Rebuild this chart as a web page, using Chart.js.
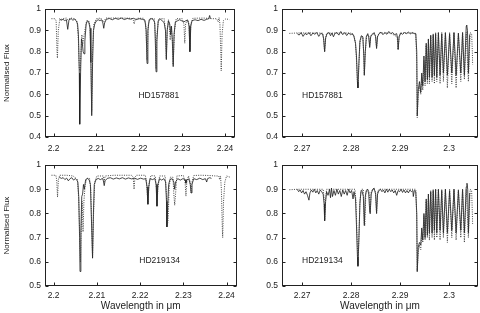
<!DOCTYPE html>
<html><head><meta charset="utf-8">
<script src="https://cdn.jsdelivr.net/npm/chart.js@4.4.0/dist/chart.umd.min.js"></script>
<style>
html,body{margin:0;padding:0;background:#fff;}
#wrap{position:relative;width:480px;height:313px;overflow:hidden;background:#fff;}
canvas{position:absolute;}
</style></head><body>
<div id="wrap">
<canvas id="c1" width="240" height="157" style="left:0;top:0"></canvas>
<canvas id="c2" width="240" height="157" style="left:240px;top:0"></canvas>
<canvas id="c3" width="240" height="157" style="left:0;top:156px"></canvas>
<canvas id="c4" width="240" height="157" style="left:240px;top:156px"></canvas>
</div>
<script>
// ---------- tick values / labels ----------
const leftXTicks = [2.2, 2.21, 2.22, 2.23, 2.24];
const leftXLabels = ["2.2", "2.21", "2.22", "2.23", "2.24"];
const rightXTicks = [2.27, 2.28, 2.29, 2.3];
const rightXLabels = ["2.27", "2.28", "2.29", "2.3"];
const topYTicks = [0.4, 0.5, 0.6, 0.7, 0.8, 0.9, 1];
const topYLabels = ["0.4", "0.5", "0.6", "0.7", "0.8", "0.9", "1"];
const botYTicks = [0.5, 0.6, 0.7, 0.8, 0.9, 1];
const botYLabels = ["0.5", "0.6", "0.7", "0.8", "0.9", "1"];
const starNames = ["HD157881", "HD219134"];

// ---------- HD157881, 2.20-2.24 um : observed (solid) ----------
const tlObsWave = [2.2013,2.2018,2.2022,2.2026,2.2030,2.2033,2.2036,2.2041,2.2045,2.2049,2.2053,2.2056,2.2058,2.2060,2.2061,2.2063,2.2065,2.2067,2.2069,2.2071,2.2073,2.2076,2.2079,2.2082,2.2085,2.2087,2.2089,2.2091,2.2093,2.2096,2.2100,2.2104,2.2108,2.2112,2.2115,2.2117,2.2119,2.2123,2.2130,2.2137,2.2144,2.2151,2.2158,2.2165,2.2172,2.2179,2.2186,2.2193,2.2200,2.2207,2.2213,2.2216,2.2218,2.2220,2.2223,2.2228,2.2233,2.2236,2.2238,2.2239,2.2241,2.2244,2.2249,2.2254,2.2258,2.2261,2.2263,2.2265,2.2268,2.2271,2.2273,2.2275,2.2277,2.2279,2.2281,2.2284,2.2289,2.2294,2.2299,2.2304,2.2308,2.2313,2.2316,2.2318,2.2320,2.2323,2.2330,2.2337,2.2344,2.2351,2.2357,2.2362,2.2364,2.2366];
const tlObsFlux = [0.955,0.948,0.952,0.946,0.950,0.905,0.950,0.955,0.948,0.952,0.945,0.930,0.880,0.700,0.460,0.700,0.860,0.840,0.800,0.790,0.850,0.930,0.945,0.940,0.910,0.750,0.500,0.750,0.900,0.930,0.945,0.950,0.946,0.950,0.935,0.910,0.935,0.952,0.956,0.950,0.957,0.952,0.958,0.951,0.956,0.953,0.957,0.951,0.955,0.952,0.948,0.900,0.745,0.900,0.950,0.955,0.950,0.935,0.800,0.706,0.850,0.945,0.952,0.945,0.935,0.900,0.763,0.900,0.945,0.930,0.880,0.920,0.850,0.730,0.880,0.940,0.945,0.950,0.945,0.940,0.945,0.948,0.920,0.800,0.920,0.946,0.950,0.946,0.952,0.947,0.952,0.955,0.970,0.955];
// ---------- HD157881, 2.20-2.24 um : model (dotted) ----------
const tlModWave = [2.1995,2.2003,2.2006,2.2008,2.2009,2.2011,2.2014,2.2020,2.2030,2.2033,2.2040,2.2050,2.2055,2.2058,2.2060,2.2062,2.2064,2.2066,2.2068,2.2070,2.2073,2.2077,2.2082,2.2085,2.2087,2.2089,2.2091,2.2094,2.2100,2.2110,2.2117,2.2122,2.2140,2.2160,2.2180,2.2186,2.2188,2.2190,2.2196,2.2210,2.2215,2.2218,2.2221,2.2226,2.2235,2.2238,2.2239,2.2241,2.2245,2.2258,2.2261,2.2263,2.2265,2.2268,2.2270,2.2272,2.2274,2.2277,2.2279,2.2282,2.2286,2.2300,2.2304,2.2306,2.2308,2.2312,2.2316,2.2318,2.2320,2.2325,2.2350,2.2370,2.2380,2.2384,2.2386,2.2388,2.2390,2.2391,2.2393,2.2396,2.2402,2.2410];
const tlModFlux = [0.955,0.955,0.945,0.800,0.770,0.900,0.945,0.955,0.958,0.950,0.958,0.955,0.940,0.850,0.720,0.710,0.800,0.880,0.830,0.860,0.900,0.945,0.945,0.920,0.800,0.520,0.800,0.930,0.955,0.958,0.940,0.958,0.958,0.958,0.957,0.948,0.930,0.948,0.957,0.957,0.930,0.760,0.930,0.957,0.955,0.850,0.720,0.880,0.955,0.955,0.900,0.770,0.900,0.950,0.920,0.855,0.920,0.860,0.740,0.900,0.955,0.955,0.930,0.840,0.930,0.950,0.930,0.810,0.930,0.957,0.958,0.955,0.955,0.940,0.960,0.930,0.800,0.710,0.880,0.945,0.955,0.950];

// ---------- HD157881, 2.27-2.30 um : observed ----------
const trObsWave = [2.2690,2.2694,2.2698,2.2702,2.2706,2.2710,2.2714,2.2718,2.2722,2.2726,2.2730,2.2734,2.2738,2.2742,2.2744,2.2746,2.2748,2.2751,2.2755,2.2758,2.2761,2.2764,2.2767,2.2771,2.2775,2.2779,2.2783,2.2787,2.2791,2.2795,2.2799,2.2803,2.2806,2.2809,2.2811,2.2813,2.2814,2.2816,2.2818,2.2821,2.2824,2.2826,2.2827,2.2829,2.2831,2.2834,2.2836,2.2838,2.2840,2.2843,2.2847,2.2850,2.2852,2.2854,2.2857,2.2861,2.2865,2.2869,2.2873,2.2877,2.2881,2.2885,2.2889,2.2893,2.2895,2.2896,2.2898,2.2901,2.2905,2.2909,2.2913,2.2917,2.2921,2.2925,2.2929,2.2932,2.2934,2.2935,2.2937,2.29395,2.29422,2.29442,2.29463,2.29487,2.29510,2.29533,2.29557,2.29578,2.29598,2.29625,2.29653,2.29676,2.29700,2.29725,2.29749,2.29782,2.29816,2.29850,2.29884,2.29925,2.29965,2.30010,2.30055,2.30100,2.30143,2.30190,2.30239,2.30275,2.30312,2.30350,2.30360,2.30375,2.30394,2.30420];
const trObsFlux = [0.885,0.878,0.890,0.872,0.886,0.880,0.890,0.875,0.888,0.882,0.890,0.872,0.886,0.883,0.860,0.800,0.865,0.885,0.890,0.875,0.888,0.870,0.886,0.890,0.878,0.895,0.880,0.890,0.876,0.888,0.880,0.885,0.870,0.840,0.780,0.660,0.630,0.750,0.850,0.875,0.870,0.780,0.690,0.800,0.870,0.885,0.870,0.820,0.870,0.880,0.890,0.870,0.815,0.870,0.885,0.892,0.880,0.890,0.882,0.895,0.885,0.890,0.880,0.885,0.860,0.810,0.870,0.888,0.882,0.890,0.885,0.892,0.884,0.890,0.885,0.885,0.800,0.500,0.620,0.660,0.610,0.700,0.640,0.780,0.660,0.840,0.670,0.860,0.680,0.875,0.680,0.880,0.690,0.885,0.680,0.890,0.690,0.885,0.700,0.890,0.690,0.885,0.700,0.890,0.690,0.885,0.700,0.890,0.690,0.920,0.925,0.900,0.700,0.880];
// ---------- HD157881, 2.27-2.30 um : model ----------
const trModWave = [2.2674,2.2690,2.2710,2.2730,2.2742,2.2744,2.2746,2.2748,2.2750,2.2780,2.2800,2.2806,2.2809,2.2811,2.2813,2.2814,2.2816,2.2818,2.2821,2.2824,2.2826,2.2827,2.2829,2.2832,2.2836,2.2838,2.2840,2.2844,2.2850,2.2852,2.2854,2.2858,2.2880,2.2894,2.2896,2.2898,2.2902,2.2920,2.2932,2.2934,2.2935,2.2937,2.29395,2.29422,2.29442,2.29463,2.29487,2.29510,2.29533,2.29557,2.29578,2.29598,2.29625,2.29653,2.29676,2.29700,2.29725,2.29749,2.29782,2.29816,2.29850,2.29884,2.29925,2.29965,2.30010,2.30055,2.30100,2.30143,2.30190,2.30239,2.30275,2.30312,2.30350,2.30394,2.30430,2.30460,2.30475,2.30480];
const trModFlux = [0.886,0.888,0.888,0.888,0.887,0.860,0.800,0.860,0.887,0.888,0.887,0.875,0.840,0.760,0.650,0.635,0.740,0.840,0.875,0.870,0.780,0.690,0.800,0.880,0.875,0.830,0.875,0.887,0.875,0.820,0.875,0.888,0.888,0.870,0.810,0.870,0.888,0.888,0.886,0.750,0.490,0.600,0.640,0.600,0.680,0.620,0.760,0.640,0.830,0.650,0.860,0.650,0.880,0.660,0.885,0.650,0.890,0.660,0.890,0.650,0.890,0.660,0.890,0.630,0.890,0.650,0.890,0.630,0.890,0.660,0.890,0.670,0.890,0.660,0.890,0.885,0.800,0.740];

// ---------- HD219134, 2.20-2.24 um : observed ----------
const blObsWave = [2.2013,2.2018,2.2022,2.2026,2.2030,2.2034,2.2038,2.2042,2.2046,2.2050,2.2053,2.2056,2.2058,2.2060,2.2061,2.2063,2.2065,2.2067,2.2069,2.2071,2.2074,2.2078,2.2082,2.2085,2.2087,2.2090,2.2092,2.2094,2.2098,2.2103,2.2108,2.2113,2.2115,2.2117,2.2119,2.2124,2.2131,2.2138,2.2145,2.2152,2.2159,2.2166,2.2173,2.2180,2.2187,2.2194,2.2201,2.2208,2.2213,2.2216,2.2218,2.2220,2.2223,2.2229,2.2234,2.2237,2.2239,2.2241,2.2245,2.2250,2.2255,2.2259,2.2261,2.2262,2.2264,2.2266,2.2269,2.2274,2.2278,2.2280,2.2282,2.2287,2.2293,2.2299,2.2304,2.2306,2.2308,2.2313,2.2316,2.2318,2.2320,2.2324,2.2331,2.2338,2.2345,2.2351,2.2354,2.2356,2.2361,2.2365];
const blObsFlux = [0.950,0.945,0.948,0.940,0.946,0.935,0.944,0.948,0.938,0.944,0.940,0.930,0.870,0.700,0.560,0.720,0.870,0.880,0.920,0.900,0.940,0.945,0.940,0.920,0.800,0.615,0.800,0.920,0.940,0.945,0.940,0.945,0.935,0.915,0.935,0.945,0.948,0.942,0.947,0.943,0.948,0.942,0.947,0.943,0.946,0.941,0.946,0.942,0.944,0.910,0.838,0.910,0.944,0.940,0.945,0.920,0.830,0.920,0.944,0.938,0.944,0.930,0.850,0.744,0.840,0.920,0.940,0.944,0.930,0.900,0.930,0.944,0.938,0.944,0.940,0.925,0.940,0.942,0.920,0.885,0.920,0.944,0.940,0.946,0.940,0.944,0.930,0.944,0.948,0.945];
// ---------- HD219134, 2.20-2.24 um : model ----------
const blModWave = [2.1995,2.2005,2.2007,2.2009,2.2011,2.2014,2.2030,2.2045,2.2055,2.2058,2.2060,2.2062,2.2064,2.2066,2.2068,2.2070,2.2073,2.2077,2.2083,2.2086,2.2088,2.2090,2.2092,2.2095,2.2100,2.2115,2.2117,2.2119,2.2140,2.2160,2.2180,2.2184,2.2186,2.2188,2.2192,2.2212,2.2215,2.2218,2.2221,2.2225,2.2235,2.2238,2.2239,2.2241,2.2245,2.2258,2.2261,2.2263,2.2265,2.2267,2.2270,2.2276,2.2278,2.2280,2.2282,2.2285,2.2300,2.2304,2.2306,2.2308,2.2312,2.2316,2.2318,2.2320,2.2324,2.2340,2.2360,2.2375,2.2382,2.2384,2.2386,2.2388,2.2390,2.2391,2.2393,2.2396,2.2400,2.2408];
const blModFlux = [0.958,0.958,0.940,0.868,0.940,0.958,0.958,0.955,0.940,0.860,0.730,0.600,0.750,0.850,0.724,0.850,0.920,0.945,0.945,0.900,0.750,0.620,0.780,0.930,0.955,0.955,0.930,0.955,0.958,0.958,0.958,0.950,0.900,0.950,0.958,0.958,0.930,0.840,0.930,0.957,0.955,0.900,0.830,0.900,0.955,0.955,0.880,0.750,0.780,0.900,0.950,0.950,0.880,0.834,0.880,0.955,0.957,0.930,0.872,0.930,0.955,0.930,0.885,0.930,0.957,0.958,0.957,0.955,0.955,0.940,0.955,0.900,0.750,0.700,0.850,0.930,0.955,0.950];

// ---------- HD219134, 2.27-2.30 um : observed ----------
const brObsWave = [2.2690,2.2693,2.2696,2.2699,2.2702,2.2705,2.2708,2.2711,2.2714,2.2716,2.2719,2.2722,2.2725,2.2728,2.2731,2.2734,2.2737,2.2740,2.2743,2.2745,2.2746,2.2748,2.2750,2.2753,2.2756,2.2758,2.2760,2.2762,2.2765,2.2768,2.2771,2.2774,2.2777,2.2780,2.2783,2.2786,2.2789,2.2792,2.2795,2.2798,2.2801,2.2804,2.2806,2.2809,2.2811,2.2813,2.2814,2.2816,2.2818,2.2820,2.2822,2.2825,2.2827,2.2829,2.2831,2.2834,2.2836,2.2838,2.2839,2.2841,2.2844,2.2847,2.2850,2.2852,2.2854,2.2857,2.2860,2.2863,2.2866,2.2869,2.2872,2.2875,2.2878,2.2881,2.2884,2.2887,2.2890,2.2893,2.2896,2.2899,2.2902,2.2905,2.2908,2.2911,2.2914,2.2917,2.2920,2.2923,2.2926,2.2927,2.2929,2.2932,2.2934,2.2935,2.2937,2.29395,2.29422,2.29442,2.29463,2.29487,2.29510,2.29533,2.29557,2.29578,2.29598,2.29625,2.29653,2.29676,2.29700,2.29725,2.29749,2.29782,2.29816,2.29850,2.29884,2.29925,2.29965,2.30010,2.30055,2.30100,2.30143,2.30190,2.30239,2.30275,2.30312,2.30350,2.30365,2.30380,2.30394,2.30420];
const brObsFlux = [0.900,0.890,0.897,0.885,0.895,0.880,0.890,0.875,0.855,0.885,0.897,0.888,0.900,0.885,0.895,0.880,0.897,0.890,0.880,0.840,0.770,0.850,0.890,0.875,0.900,0.865,0.905,0.870,0.895,0.875,0.900,0.880,0.895,0.870,0.897,0.880,0.895,0.875,0.900,0.885,0.895,0.860,0.890,0.860,0.750,0.620,0.583,0.700,0.840,0.890,0.895,0.870,0.750,0.870,0.895,0.900,0.880,0.810,0.800,0.880,0.900,0.905,0.880,0.800,0.880,0.895,0.900,0.890,0.897,0.885,0.900,0.888,0.900,0.890,0.897,0.885,0.895,0.875,0.895,0.890,0.900,0.887,0.897,0.885,0.895,0.885,0.897,0.890,0.895,0.870,0.895,0.890,0.800,0.560,0.660,0.680,0.670,0.740,0.690,0.800,0.700,0.860,0.710,0.880,0.720,0.890,0.720,0.895,0.730,0.900,0.720,0.900,0.730,0.895,0.720,0.900,0.720,0.895,0.730,0.900,0.720,0.895,0.730,0.900,0.720,0.910,0.925,0.900,0.720,0.885];
// ---------- HD219134, 2.27-2.30 um : model ----------
const brModWave = [2.2674,2.2690,2.2743,2.2745,2.2746,2.2748,2.2750,2.2808,2.2810,2.2812,2.2814,2.2816,2.2818,2.2821,2.2825,2.2827,2.2828,2.2830,2.2833,2.2837,2.2839,2.2841,2.2845,2.2850,2.2852,2.2854,2.2857,2.2932,2.2934,2.2935,2.2937,2.29395,2.29422,2.29442,2.29463,2.29487,2.29510,2.29533,2.29557,2.29578,2.29598,2.29625,2.29653,2.29676,2.29700,2.29725,2.29749,2.29782,2.29816,2.29850,2.29884,2.29925,2.29965,2.30010,2.30055,2.30100,2.30143,2.30190,2.30239,2.30275,2.30312,2.30350,2.30394,2.30430,2.30460,2.30475,2.30480];
const brModFlux = [0.898,0.900,0.900,0.860,0.770,0.860,0.900,0.900,0.850,0.720,0.580,0.700,0.850,0.900,0.900,0.760,0.750,0.880,0.900,0.890,0.800,0.890,0.900,0.890,0.800,0.890,0.900,0.900,0.780,0.560,0.640,0.670,0.650,0.720,0.680,0.790,0.690,0.850,0.700,0.880,0.690,0.895,0.700,0.900,0.690,0.900,0.700,0.900,0.690,0.900,0.700,0.900,0.680,0.900,0.700,0.900,0.690,0.900,0.700,0.900,0.680,0.900,0.700,0.900,0.895,0.800,0.757];

// ---------- drawing ----------
const FONT = '"Liberation Sans", Arial, sans-serif';
const pts = (w, f) => w.map((v, i) => ({x: v, y: f[i]}));

const framePlugin = {
  id: 'frameTicks',
  afterDatasetsDraw(chart, args, o) {
    const {ctx, chartArea: a, scales} = chart;
    const L = Math.round(a.left) + 0.5, R = Math.round(a.right) - 0.5;
    const T = Math.round(a.top) + 0.5, B = Math.round(a.bottom) - 0.5;
    ctx.save();
    ctx.strokeStyle = '#222';
    ctx.lineWidth = 1;
    ctx.strokeRect(L, T, R - L, B - T);
    const tl = 3;
    ctx.beginPath();
    o.xTicks.forEach(v => {
      const p = Math.round(scales.x.getPixelForValue(v)) + 0.5;
      ctx.moveTo(p, B); ctx.lineTo(p, B - tl);
      ctx.moveTo(p, T); ctx.lineTo(p, T + tl);
    });
    o.yTicks.forEach(v => {
      const p = Math.round(scales.y.getPixelForValue(v)) + 0.5;
      ctx.moveTo(L, p); ctx.lineTo(L + tl, p);
      ctx.moveTo(R, p); ctx.lineTo(R - tl, p);
    });
    ctx.stroke();
    ctx.fillStyle = '#222';
    ctx.font = '8.5px ' + FONT;
    ctx.textAlign = 'left';
    ctx.textBaseline = 'middle';
    ctx.fillText(o.name, scales.x.getPixelForValue(o.nameX), scales.y.getPixelForValue(o.nameY));
    ctx.restore();
  }
};

function makePanel(id, p) {
  const cv = document.getElementById(id);
  new Chart(cv, {
    type: 'line',
    data: {
      datasets: [
        {data: pts(p.modW, p.modF), borderColor: '#333', borderWidth: 0.9, borderDash: [1, 1.3], pointRadius: 0, tension: 0, fill: false},
        {data: pts(p.obsW, p.obsF), borderColor: '#1a1a1a', borderWidth: 0.8, pointRadius: 0, tension: 0, fill: false}
      ]
    },
    options: {
      responsive: false, animation: false, devicePixelRatio: 1,
      layout: {padding: {top: p.padTop, right: p.padRight, left: 0, bottom: 0}},
      plugins: {legend: {display: false}, tooltip: {enabled: false},
        frameTicks: {xTicks: p.xTicks, yTicks: p.yTicks, name: p.name, nameX: p.nameX, nameY: p.nameY}},
      scales: {
        x: {
          type: 'linear', min: p.xMin, max: p.xMax,
          afterBuildTicks: s => { s.ticks = p.xTicks.map(v => ({value: v})); },
          afterFit: s => { s.height = p.xAxisH; },
          grid: {display: true, drawOnChartArea: false, drawTicks: false},
          border: {display: false},
          ticks: {autoSkip: false, maxRotation: 0, padding: p.xTickPad, color: '#222', font: {family: FONT, size: 8.5},
            callback: (v) => { const i = p.xTicks.findIndex(t => Math.abs(t - v) < 1e-9); return i >= 0 ? p.xLabels[i] : ''; }},
          title: {display: p.xTitle, text: 'Wavelength in \u03bcm', color: '#222', font: {family: FONT, size: 10}, padding: {top: 0, bottom: 1}}
        },
        y: {
          type: 'linear', min: p.yMin, max: p.yMax,
          afterBuildTicks: s => { s.ticks = p.yTicks.map(v => ({value: v})); },
          afterFit: s => { s.width = p.yAxisW; },
          grid: {display: true, drawOnChartArea: false, drawTicks: false},
          border: {display: false},
          ticks: {autoSkip: false, padding: 4, color: '#222', font: {family: FONT, size: 8.5},
            callback: (v) => { const i = p.yTicks.findIndex(t => Math.abs(t - v) < 1e-9); return i >= 0 ? p.yLabels[i] : ''; }},
          title: {display: p.yTitle, text: 'Normalised Flux', color: '#222', font: {family: FONT, size: 8}, padding: {top: 2, bottom: 0}}
        }
      }
    },
    plugins: [framePlugin]
  });
}

makePanel('c1', {obsW: tlObsWave, obsF: tlObsFlux, modW: tlModWave, modF: tlModFlux,
  xMin: 2.198, xMax: 2.2423, yMin: 0.4, yMax: 1, xTicks: leftXTicks, xLabels: leftXLabels, yTicks: topYTicks, yLabels: topYLabels,
  padTop: 4, padRight: 3, xAxisH: 20, xTickPad: 6.5, yAxisW: 45, xTitle: false, yTitle: true, name: starNames[0], nameX: 2.2198, nameY: 0.595});
makePanel('c2', {obsW: trObsWave, obsF: trObsFlux, modW: trModWave, modF: trModFlux,
  xMin: 2.2659, xMax: 2.3059, yMin: 0.4, yMax: 1, xTicks: rightXTicks, xLabels: rightXLabels, yTicks: topYTicks, yLabels: topYLabels,
  padTop: 4, padRight: 2, xAxisH: 20, xTickPad: 6.5, yAxisW: 42, xTitle: false, yTitle: false, name: starNames[0], nameX: 2.27, nameY: 0.595});
makePanel('c3', {obsW: blObsWave, obsF: blObsFlux, modW: blModWave, modF: blModFlux,
  xMin: 2.198, xMax: 2.2423, yMin: 0.5, yMax: 1, xTicks: leftXTicks, xLabels: leftXLabels, yTicks: botYTicks, yLabels: botYLabels,
  padTop: 5.5, padRight: 3, xAxisH: 27, xTickPad: 5, yAxisW: 45, xTitle: true, yTitle: true, name: starNames[1], nameX: 2.2198, nameY: 0.603});
makePanel('c4', {obsW: brObsWave, obsF: brObsFlux, modW: brModWave, modF: brModFlux,
  xMin: 2.2659, xMax: 2.3059, yMin: 0.5, yMax: 1, xTicks: rightXTicks, xLabels: rightXLabels, yTicks: botYTicks, yLabels: botYLabels,
  padTop: 5.5, padRight: 2, xAxisH: 27, xTickPad: 5, yAxisW: 42, xTitle: true, yTitle: false, name: starNames[1], nameX: 2.27, nameY: 0.603});
</script>
</body></html>
